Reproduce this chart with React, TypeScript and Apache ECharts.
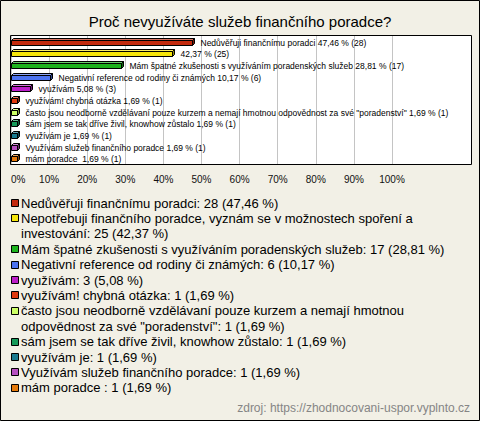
import React, { useEffect, useRef } from "react";
import * as echarts from "echarts";

const title = "Proč nevyužíváte služeb finančního poradce?";
const categories = [
  "Nedůvěřuji finančnímu poradci",
  "Nepotřebuji finančního poradce, vyznám se v možnostech spoření a investování",
  "Mám špatné zkušenosti s využíváním poradenských služeb",
  "Negativní reference od rodiny či známých",
  "využívám",
  "využívám! chybná otázka",
  "často jsou neodborně vzdělávaní pouze kurzem a nemají hmotnou odpovědnost za své \"poradenství\"",
  "sám jsem se tak dříve živil, knowhow zůstalo",
  "využívám je",
  "Využívám služeb finančního poradce",
  "mám poradce ",
];
const barNames = [
  "Nedůvěřuji finančnímu poradci",
  "",
  "Mám špatné zkušenosti s využíváním poradenských služeb",
  "Negativní reference od rodiny či známých",
  "využívám",
  "využívám! chybná otázka",
  "často jsou neodborně vzdělávaní pouze kurzem a nemají hmotnou odpovědnost za své \"poradenství\"",
  "sám jsem se tak dříve živil, knowhow zůstalo",
  "využívám je",
  "Využívám služeb finančního poradce",
  "mám poradce ",
];
const counts = [28, 25, 17, 6, 3, 1, 1, 1, 1, 1, 1];
const percents = [47.46, 42.37, 28.81, 10.17, 5.08, 1.69, 1.69, 1.69, 1.69, 1.69, 1.69];
const colors = [
  "#c32a0e", "#f5e50b", "#1db31d", "#4c73f0", "#bb1ec8", "#e03a10",
  "#ccff66", "#169a5a", "#1a7a90", "#b54fc0", "#e57a0c",
];
const xTicks = [0, 10, 20, 30, 40, 50, 60, 70, 80, 90, 100];
const source = "zdroj: https://zhodnocovani-uspor.vyplnto.cz";

const FAMILY = "'Liberation Sans', Arial, sans-serif";
const fmt = (v: number) => v.toFixed(2).replace(".", ",");

function shade(hex: string, f: number) {
  const n = parseInt(hex.slice(1), 16);
  let r = (n >> 16) & 255, g = (n >> 8) & 255, b = n & 255;
  if (f >= 0) {
    r = r + (255 - r) * f; g = g + (255 - g) * f; b = b + (255 - b) * f;
  } else {
    r = r * (1 + f); g = g * (1 + f); b = b * (1 + f);
  }
  return `rgb(${Math.round(r)},${Math.round(g)},${Math.round(b)})`;
}

const LEGEND_SIZE = 13;
const LEGEND_W = 448;

function wrap(text: string): string[] {
  const c = document.createElement("canvas").getContext("2d");
  if (!c) return [text];
  c.font = `${LEGEND_SIZE}px ${FAMILY}`;
  const words = text.split(" ");
  const lines: string[] = [];
  let cur = "";
  for (const w of words) {
    const test = cur ? cur + " " + w : w;
    if (c.measureText(test).width > LEGEND_W && cur) {
      lines.push(cur);
      cur = w;
    } else cur = test;
  }
  lines.push(cur);
  return lines;
}

export default function App() {
  const ref = useRef<HTMLDivElement>(null);
  useEffect(() => {
    if (!ref.current) return;
    const chart = echarts.init(ref.current, undefined, { renderer: "svg" });

    const legendEls: any[] = [];
    const lh = 15.4;
    let yc = 203;
    categories.forEach((name, i) => {
      const text = `${name}: ${counts[i]} (${fmt(percents[i])} %)`;
      const lines = wrap(text);
      legendEls.push({
        type: "rect",
        shape: { x: 11.5, y: Math.round(yc - 4) + 0.5, width: 7, height: 7 },
        style: { fill: colors[i], stroke: "#000", lineWidth: 1 },
      });
      lines.forEach((ln, k) => {
        legendEls.push({
          type: "text",
          x: 21,
          y: yc + k * lh,
          style: {
            text: ln,
            fontSize: LEGEND_SIZE,
            fontFamily: FAMILY,
            fill: "#000",
            verticalAlign: "middle",
          },
        });
      });
      yc += lines.length * lh;
    });

    const data = percents.map((p, i) => [p, i]);

    chart.setOption({
      animation: false,
      backgroundColor: "#f2f0e6",
      title: {
        text: title,
        left: "center",
        top: 9,
        textStyle: { fontSize: 15, fontWeight: "normal", color: "#000", fontFamily: FAMILY },
      },
      grid: { left: 11, top: 36, width: 381, height: 128, containLabel: false },
      xAxis: {
        type: "value",
        min: 0,
        max: 100,
        interval: 10,
        axisLine: { show: false },
        axisTick: { show: false },
        splitLine: { show: true, lineStyle: { color: "#c4c4c4", width: 1 } },
        axisLabel: {
          formatter: (v: number) => (xTicks.includes(v) ? `${v}%` : ""),
          fontSize: 10,
          color: "#111",
          margin: 10,
          fontFamily: FAMILY,
          alignMinLabel: "left",
        },
      },
      yAxis: {
        type: "category",
        data: categories,
        inverse: true,
        show: false,
      },
      graphic: [
        {
          type: "rect",
          z: -100,
          shape: { x: 0.5, y: 0.5, width: 479, height: 420 },
          style: { fill: "none", stroke: "#000", lineWidth: 1 },
        },
        {
          type: "rect",
          z: -100,
          shape: { x: 10.5, y: 35.5, width: 461, height: 129 },
          style: { fill: "#fff", stroke: "#000", lineWidth: 1 },
        },
        ...legendEls,
        {
          type: "text",
          x: 470,
          y: 408,
          style: {
            text: source,
            fontSize: 12,
            fontFamily: FAMILY,
            fill: "#858585",
            align: "right",
            verticalAlign: "middle",
          },
        },
      ],
      series: [
        {
          type: "custom",
          data,
          z: 5,
          renderItem: (params: any, api: any) => {
            const i = api.value(1);
            const v = api.value(0);
            const p0 = api.coord([0, i]);
            const p1 = api.coord([v, i]);
            const x0 = Math.round(p0[0]) + 0.5;
            const x1 = Math.round(p1[0]) + 0.5;
            const yc2 = Math.round(p0[1]) + 0.5;
            const h = 5;
            const d = 2;
            const top = yc2 - 2;
            const bot = top + h;
            const col = colors[i];
            return {
              type: "group",
              children: [
                {
                  type: "polygon",
                  shape: { points: [[x0, top], [x0 + d, top - d], [x1 + d, top - d], [x1, top]] },
                  style: { fill: shade(col, 0.35), stroke: "#000", lineWidth: 1 },
                },
                {
                  type: "polygon",
                  shape: { points: [[x1, top], [x1 + d, top - d], [x1 + d, bot - d], [x1, bot]] },
                  style: { fill: shade(col, -0.4), stroke: "#000", lineWidth: 1 },
                },
                {
                  type: "rect",
                  shape: { x: x0, y: top, width: x1 - x0, height: h },
                  style: { fill: col, stroke: "#000", lineWidth: 1 },
                },
                {
                  type: "text",
                  x: x1 + 8,
                  y: yc2,
                  style: {
                    text: `${barNames[i] ? barNames[i] + " " : ""}${fmt(percents[i])} % (${counts[i]})`,
                    fontSize: 8.5,
                    fontFamily: FAMILY,
                    fill: "#000",
                    verticalAlign: "middle",
                  },
                },
              ],
            };
          },
        },
      ],
    });
    return () => chart.dispose();
  }, []);
  return (
    <div
      ref={ref}
      style={{ position: "fixed", left: 0, top: 0, width: 480, height: 421 }}
    />
  );
}
